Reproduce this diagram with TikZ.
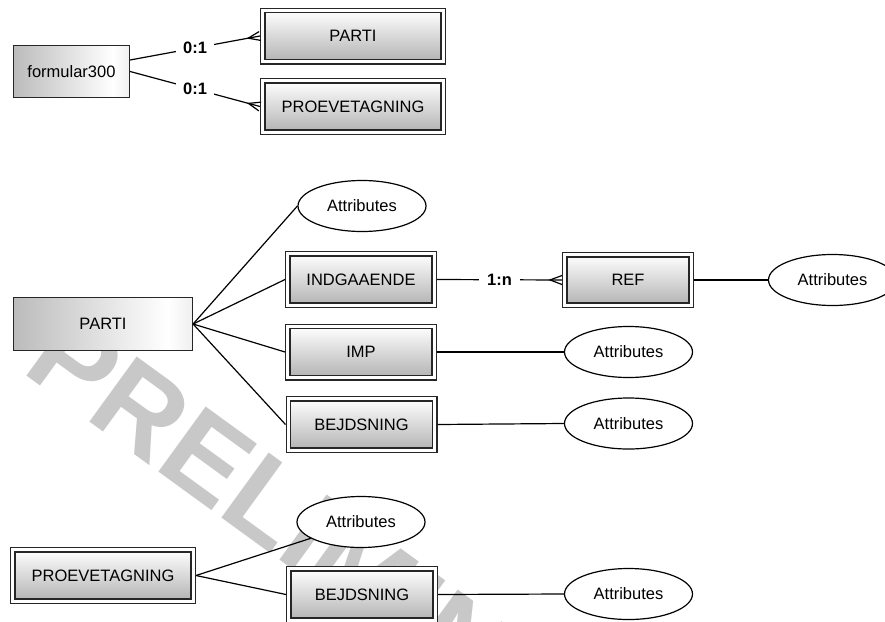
\documentclass[tikz,border=0pt]{standalone}
\usepackage{fontspec}
\setmainfont{Liberation Sans}
\usetikzlibrary{calc,shapes.geometric}
\pgfdeclarehorizontalshading{sidegrad}{100bp}{color(0bp)=(black!42); color(68bp)=(white); color(100bp)=(black!28)}
\definecolor{wmgray}{RGB}{200,200,200}
\newcommand\crowfoot[2]{\draw[conn,line join=miter] ($(#2)!4.5pt!90:(#1)$) -- ($(#2)!12pt!(#1)$) -- ($(#2)!4.5pt!-90:(#1)$);}
\begin{document}
\begin{tikzpicture}[x=1pt,y=-1pt,
  txt/.style={font=\fontsize{16.5}{19}\selectfont},
  ebox/.style={txt, draw=black!85, line width=1.2pt, shade, shading=sidegrad, inner sep=0pt},
  dbox/.style={txt, draw=black!85, line width=1.2pt, double=white, double distance=3.2pt,
    top color=white, bottom color=black!30, inner sep=0pt, outer sep=2.8pt},
  attr/.style={txt, ellipse, draw, fill=white, line width=1.2pt, minimum width=128pt, minimum height=51pt, inner sep=0pt},
  lbl/.style={font=\fontsize{16.5}{19}\selectfont\bfseries, fill=white, inner xsep=7pt, inner ysep=2pt},
  conn/.style={line width=1.2pt}
]
\useasboundingbox (0,0) rectangle (885,621);
\clip (0,0) rectangle (885,621);
\fill[white] (0,0) rectangle (885,621);
% watermark
\node[anchor=base west, rotate=-36, inner sep=0pt, text=wmgray,
  font=\fontsize{117}{117}\selectfont\bfseries] (wm) at (20.7,371.7) {PRELIMINARY};

% top section
\node[ebox, minimum width=116pt, minimum height=52pt] (f) at (71.5,71.5) {formular300};
\node[dbox, minimum width=180.4pt, minimum height=51.4pt] (pt) at (353,36) {PARTI};
\node[dbox, minimum width=180.4pt, minimum height=51.4pt] (pp) at (353,106.5) {PROEVETAGNING};

\coordinate (s1) at ($(f.east)+(0,-11.5)$);
\draw[conn] (s1) -- node[lbl]{0:1} (pt.west);
\crowfoot{s1}{pt.west}
\draw[conn] (f.east) -- node[lbl]{0:1} (pp.west);
\crowfoot{f.east}{pp.west}

% middle section
\node[ebox, minimum width=179pt, minimum height=53pt] (pa) at (103,324) {PARTI};
\node[attr] (a1) at (362,206) {Attributes};
\node[dbox, minimum width=146.4pt, minimum height=51.4pt] (ind) at (361,279.5) {INDGAAENDE};
\node[dbox, minimum width=146.4pt, minimum height=51.4pt] (imp) at (361,352) {IMP};
\node[dbox, minimum width=146.4pt, minimum height=51.4pt] (bej) at (361.5,424.5) {BEJDSNING};
\node[dbox, minimum width=126.4pt, minimum height=50.4pt] (ref) at (628,280) {REF};
\node[attr] (a2) at (832.5,280) {Attributes};
\node[attr] (a3) at (628.5,352) {Attributes};
\node[attr] (a4) at (628.5,423.5) {Attributes};

\draw[conn] (pa.east) -- (a1.west);
\draw[conn] (pa.east) -- (ind.west);
\draw[conn] (pa.east) -- (imp.west);
\draw[conn] (pa.east) -- (bej.west);
\draw[conn] (ind.east) -- node[lbl, inner xsep=8pt]{1:n} (ref.west);
\crowfoot{ind.east}{ref.west}
\draw[conn] (ref.east) -- (a2.west);
\draw[conn] (imp.east) -- (a3.west);
\draw[conn] (bej.east) -- (a4.west);

% bottom section
\node[dbox, minimum width=180.4pt, minimum height=51.4pt] (pb) at (103,575.5) {PROEVETAGNING};
\node[attr] (a5) at (361,522) {Attributes};
\node[dbox, minimum width=146.4pt, minimum height=51.4pt] (bb) at (362,594.5) {BEJDSNING};
\node[attr] (a6) at (628.5,594) {Attributes};

\draw[conn] (pb.east) -- (a5);
\draw[conn] (pb.east) -- (bb.west);
\draw[conn] (bb.east) -- (a6.west);
\end{tikzpicture}
\end{document}
